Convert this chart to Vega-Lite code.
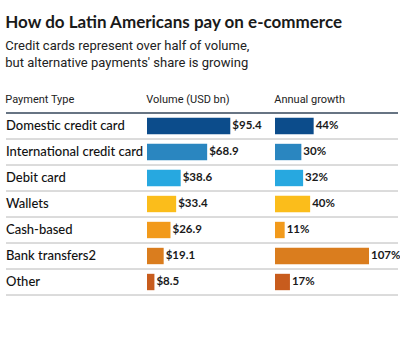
{
  "$schema": "https://vega.github.io/schema/vega-lite/v6.json",
  "background": "white",
  "padding": {"left": 5, "top": 14, "right": 3, "bottom": 5},
  "bounds": "flush",
  "title": {
    "text": "How do Latin Americans pay on e-commerce",
    "subtitle": ["Credit cards represent over half of volume,", "but alternative payments' share is growing"],
    "anchor": "start",
    "font": "Lato",
    "fontSize": 17,
    "fontWeight": "bold",
    "color": "#1a1a1a",
    "subtitleFont": "Roboto",
    "subtitleFontSize": 13,
    "subtitleColor": "#222222",
    "subtitleLineHeight": 17,
    "subtitlePadding": 8,
    "offset": 23
  },
  "data": {
    "values": [
      {"type": "Domestic credit card", "volume": 95.4, "growth": 0.44},
      {"type": "International credit card", "volume": 68.9, "growth": 0.30},
      {"type": "Debit card", "volume": 38.6, "growth": 0.32},
      {"type": "Wallets", "volume": 33.4, "growth": 0.40},
      {"type": "Cash-based", "volume": 26.9, "growth": 0.11},
      {"type": "Bank transfers2", "volume": 19.1, "growth": 1.07},
      {"type": "Other", "volume": 8.5, "growth": 0.17}
    ]
  },
  "spacing": 0,
  "hconcat": [
    {
      "width": 141,
      "height": 182,
      "title": {"text": "Payment Type", "anchor": "start", "font": "Roboto", "fontSize": 11, "fontWeight": "normal", "color": "#222222", "offset": 7},
      "encoding": {
        "y": {"field": "type", "type": "nominal", "sort": null, "axis": null,
              "scale": {"paddingInner": 0, "paddingOuter": 0}}
      },
      "layer": [
        {"mark": {"type": "rule", "color": "#b8b8b8", "strokeWidth": 1},
         "encoding": {"y": {"field": "type", "type": "nominal", "sort": null, "bandPosition": 1}}},
        {"transform": [{"filter": "datum.type === 'Domestic credit card'"}],
         "mark": {"type": "rule", "color": "#34465a", "strokeWidth": 1.5},
         "encoding": {"y": {"field": "type", "type": "nominal", "sort": null, "bandPosition": 0}}},
        {"mark": {"type": "text", "x": 0, "align": "left", "baseline": "middle", "font": "Lato", "fontSize": 13, "fontWeight": 500, "color": "#111111"},
         "encoding": {"text": {"field": "type"}}}
      ]
    },
    {
      "width": 128,
      "height": 182,
      "title": {"text": "Volume (USD bn)", "anchor": "start", "font": "Roboto", "fontSize": 11, "fontWeight": "normal", "color": "#222222", "offset": 7},
      "encoding": {
        "y": {"field": "type", "type": "nominal", "sort": null, "axis": null,
              "scale": {"paddingInner": 0, "paddingOuter": 0}}
      },
      "layer": [
        {"mark": {"type": "rule", "color": "#b8b8b8", "strokeWidth": 1},
         "encoding": {"y": {"field": "type", "type": "nominal", "sort": null, "bandPosition": 1}}},
        {"transform": [{"filter": "datum.type === 'Domestic credit card'"}],
         "mark": {"type": "rule", "color": "#34465a", "strokeWidth": 1.5},
         "encoding": {"y": {"field": "type", "type": "nominal", "sort": null, "bandPosition": 0}}},
        {"mark": {"type": "bar", "height": {"band": 0.63}},
         "encoding": {
           "x": {"field": "volume", "type": "quantitative", "axis": null, "scale": {"domain": [0, 146.6], "nice": false}},
           "color": {"field": "type", "type": "nominal", "legend": null,
             "scale": {"domain": ["Domestic credit card", "International credit card", "Debit card", "Wallets", "Cash-based", "Bank transfers2", "Other"],
                       "range": ["#0c4c8b", "#2a86c0", "#27a8e0", "#fbbd1b", "#f29a1b", "#da7d1e", "#c85c1d"]}}
         }},
        {"mark": {"type": "text", "align": "left", "baseline": "middle", "dx": 2, "font": "Lato", "fontSize": 11.5, "fontWeight": "bold", "color": "#1a1a1a"},
         "encoding": {
           "x": {"field": "volume", "type": "quantitative"},
           "text": {"field": "volume", "type": "quantitative", "format": "$.1f"}
         }}
      ]
    },
    {
      "width": 123,
      "height": 182,
      "title": {"text": "Annual growth", "anchor": "start", "font": "Roboto", "fontSize": 11, "fontWeight": "normal", "color": "#222222", "offset": 7},
      "encoding": {
        "y": {"field": "type", "type": "nominal", "sort": null, "axis": null,
              "scale": {"paddingInner": 0, "paddingOuter": 0}}
      },
      "layer": [
        {"mark": {"type": "rule", "color": "#b8b8b8", "strokeWidth": 1},
         "encoding": {"y": {"field": "type", "type": "nominal", "sort": null, "bandPosition": 1}}},
        {"transform": [{"filter": "datum.type === 'Domestic credit card'"}],
         "mark": {"type": "rule", "color": "#34465a", "strokeWidth": 1.5},
         "encoding": {"y": {"field": "type", "type": "nominal", "sort": null, "bandPosition": 0}}},
        {"mark": {"type": "bar", "height": {"band": 0.63}},
         "encoding": {
           "x": {"field": "growth", "type": "quantitative", "axis": null, "scale": {"domain": [0, 1.40], "nice": false}},
           "color": {"field": "type", "type": "nominal", "legend": null,
             "scale": {"domain": ["Domestic credit card", "International credit card", "Debit card", "Wallets", "Cash-based", "Bank transfers2", "Other"],
                       "range": ["#0c4c8b", "#2a86c0", "#27a8e0", "#fbbd1b", "#f29a1b", "#da7d1e", "#c85c1d"]}}
         }},
        {"mark": {"type": "text", "align": "left", "baseline": "middle", "dx": 2, "font": "Lato", "fontSize": 11.5, "fontWeight": "bold", "color": "#1a1a1a"},
         "encoding": {
           "x": {"field": "growth", "type": "quantitative"},
           "text": {"field": "growth", "type": "quantitative", "format": ".0%"}
         }}
      ]
    }
  ],
  "resolve": {"scale": {"color": "shared"}},
  "config": {"view": {"stroke": null}, "concat": {"spacing": 0}}
}
